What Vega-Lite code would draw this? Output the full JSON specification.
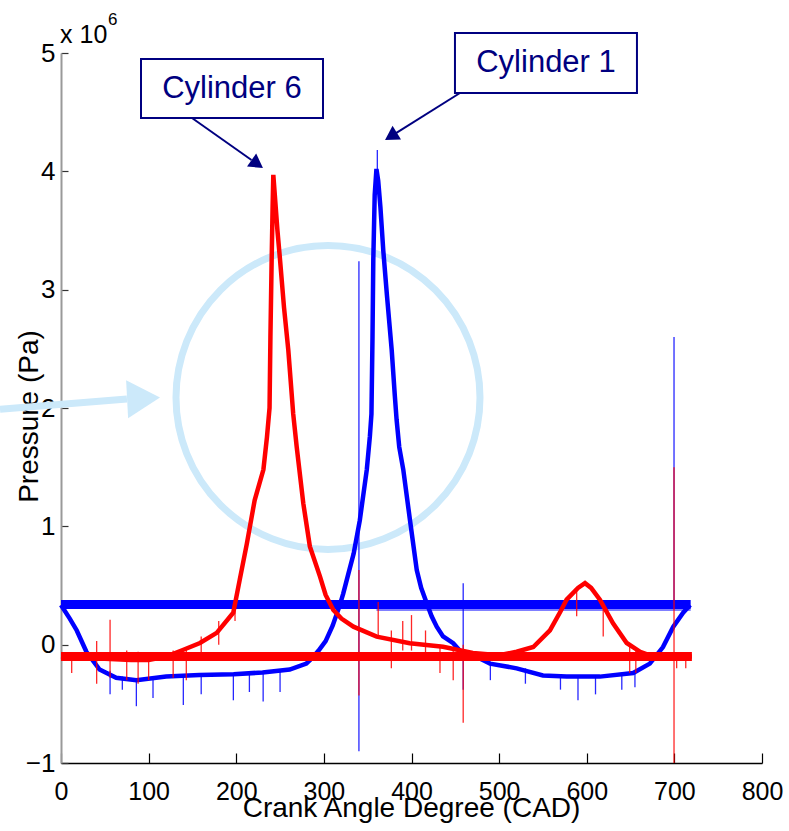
{
  "$schema": "https://vega.github.io/schema/vega-lite/v6.json",
  "width": 701,
  "height": 710,
  "autosize": {"type": "none"},
  "padding": {"left": 61, "top": 53, "right": 27, "bottom": 68},
  "background": "white",
  "config": {
    "view": {"stroke": null},
    "font": "Liberation Sans",
    "axis": {"grid": false, "labelFont": "Liberation Sans", "titleFont": "Liberation Sans", "labelColor": "#000", "titleColor": "#000", "titleFontWeight": "normal"}
  },
  "datasets": {
    "curves": [
      {"cyl": "Cylinder 1", "cad": 0, "p": 0.335}, {"cyl": "Cylinder 1", "cad": 10, "p": 0.22}, {"cyl": "Cylinder 1", "cad": 18, "p": 0.12},
      {"cyl": "Cylinder 1", "cad": 29, "p": -0.06}, {"cyl": "Cylinder 1", "cad": 44, "p": -0.21}, {"cyl": "Cylinder 1", "cad": 63, "p": -0.28},
      {"cyl": "Cylinder 1", "cad": 86, "p": -0.30}, {"cyl": "Cylinder 1", "cad": 120, "p": -0.27}, {"cyl": "Cylinder 1", "cad": 158, "p": -0.256},
      {"cyl": "Cylinder 1", "cad": 197, "p": -0.25}, {"cyl": "Cylinder 1", "cad": 230, "p": -0.235}, {"cyl": "Cylinder 1", "cad": 261, "p": -0.21},
      {"cyl": "Cylinder 1", "cad": 280, "p": -0.16}, {"cyl": "Cylinder 1", "cad": 287, "p": -0.11}, {"cyl": "Cylinder 1", "cad": 294, "p": -0.05},
      {"cyl": "Cylinder 1", "cad": 302, "p": 0.03}, {"cyl": "Cylinder 1", "cad": 310, "p": 0.16}, {"cyl": "Cylinder 1", "cad": 318, "p": 0.33},
      {"cyl": "Cylinder 1", "cad": 322, "p": 0.43}, {"cyl": "Cylinder 1", "cad": 328, "p": 0.6}, {"cyl": "Cylinder 1", "cad": 334, "p": 0.77},
      {"cyl": "Cylinder 1", "cad": 341, "p": 1.05}, {"cyl": "Cylinder 1", "cad": 349, "p": 1.48}, {"cyl": "Cylinder 1", "cad": 352.5, "p": 1.76},
      {"cyl": "Cylinder 1", "cad": 354.3, "p": 1.95}, {"cyl": "Cylinder 1", "cad": 355.5, "p": 2.6}, {"cyl": "Cylinder 1", "cad": 356.4, "p": 3.25},
      {"cyl": "Cylinder 1", "cad": 358, "p": 3.8}, {"cyl": "Cylinder 1", "cad": 360, "p": 4.02}, {"cyl": "Cylinder 1", "cad": 362, "p": 3.92},
      {"cyl": "Cylinder 1", "cad": 364.5, "p": 3.7}, {"cyl": "Cylinder 1", "cad": 367.8, "p": 3.33},
      {"cyl": "Cylinder 1", "cad": 372, "p": 2.95}, {"cyl": "Cylinder 1", "cad": 377.4, "p": 2.49}, {"cyl": "Cylinder 1", "cad": 381, "p": 2.1},
      {"cyl": "Cylinder 1", "cad": 383, "p": 1.9}, {"cyl": "Cylinder 1", "cad": 386, "p": 1.67}, {"cyl": "Cylinder 1", "cad": 390.6, "p": 1.48},
      {"cyl": "Cylinder 1", "cad": 398.3, "p": 1.05}, {"cyl": "Cylinder 1", "cad": 406, "p": 0.63}, {"cyl": "Cylinder 1", "cad": 411, "p": 0.48},
      {"cyl": "Cylinder 1", "cad": 417.4, "p": 0.35}, {"cyl": "Cylinder 1", "cad": 423, "p": 0.24}, {"cyl": "Cylinder 1", "cad": 428.8, "p": 0.152},
      {"cyl": "Cylinder 1", "cad": 436, "p": 0.07}, {"cyl": "Cylinder 1", "cad": 447.6, "p": 0.012}, {"cyl": "Cylinder 1", "cad": 455, "p": -0.05},
      {"cyl": "Cylinder 1", "cad": 470.5, "p": -0.09}, {"cyl": "Cylinder 1", "cad": 489.6, "p": -0.16}, {"cyl": "Cylinder 1", "cad": 520, "p": -0.2},
      {"cyl": "Cylinder 1", "cad": 550, "p": -0.26}, {"cyl": "Cylinder 1", "cad": 577, "p": -0.27}, {"cyl": "Cylinder 1", "cad": 615, "p": -0.27},
      {"cyl": "Cylinder 1", "cad": 653, "p": -0.24}, {"cyl": "Cylinder 1", "cad": 672, "p": -0.16}, {"cyl": "Cylinder 1", "cad": 687, "p": -0.02},
      {"cyl": "Cylinder 1", "cad": 698.6, "p": 0.15}, {"cyl": "Cylinder 1", "cad": 710, "p": 0.27}, {"cyl": "Cylinder 1", "cad": 718, "p": 0.335},
      {"cyl": "Cylinder 6", "cad": 0, "p": -0.10}, {"cyl": "Cylinder 6", "cad": 20, "p": -0.11}, {"cyl": "Cylinder 6", "cad": 50, "p": -0.12},
      {"cyl": "Cylinder 6", "cad": 80, "p": -0.13}, {"cyl": "Cylinder 6", "cad": 100, "p": -0.13}, {"cyl": "Cylinder 6", "cad": 120, "p": -0.10},
      {"cyl": "Cylinder 6", "cad": 139, "p": -0.045}, {"cyl": "Cylinder 6", "cad": 158.6, "p": 0.014}, {"cyl": "Cylinder 6", "cad": 177.7, "p": 0.10},
      {"cyl": "Cylinder 6", "cad": 196.6, "p": 0.27}, {"cyl": "Cylinder 6", "cad": 204, "p": 0.55}, {"cyl": "Cylinder 6", "cad": 212, "p": 0.85},
      {"cyl": "Cylinder 6", "cad": 221, "p": 1.22}, {"cyl": "Cylinder 6", "cad": 231, "p": 1.48}, {"cyl": "Cylinder 6", "cad": 235, "p": 1.75},
      {"cyl": "Cylinder 6", "cad": 238, "p": 2.0}, {"cyl": "Cylinder 6", "cad": 239, "p": 2.6}, {"cyl": "Cylinder 6", "cad": 240.4, "p": 3.25},
      {"cyl": "Cylinder 6", "cad": 241.5, "p": 3.7}, {"cyl": "Cylinder 6", "cad": 242.3, "p": 3.97}, {"cyl": "Cylinder 6", "cad": 244, "p": 3.8},
      {"cyl": "Cylinder 6", "cad": 247, "p": 3.5}, {"cyl": "Cylinder 6", "cad": 250, "p": 3.25}, {"cyl": "Cylinder 6", "cad": 254.5, "p": 2.85},
      {"cyl": "Cylinder 6", "cad": 259.4, "p": 2.49}, {"cyl": "Cylinder 6", "cad": 265, "p": 1.95}, {"cyl": "Cylinder 6", "cad": 269, "p": 1.67},
      {"cyl": "Cylinder 6", "cad": 276.5, "p": 1.195}, {"cyl": "Cylinder 6", "cad": 284, "p": 0.83}, {"cyl": "Cylinder 6", "cad": 295.6, "p": 0.575},
      {"cyl": "Cylinder 6", "cad": 302, "p": 0.42}, {"cyl": "Cylinder 6", "cad": 310.8, "p": 0.293}, {"cyl": "Cylinder 6", "cad": 320, "p": 0.22},
      {"cyl": "Cylinder 6", "cad": 333.7, "p": 0.152}, {"cyl": "Cylinder 6", "cad": 360.3, "p": 0.068}, {"cyl": "Cylinder 6", "cad": 398, "p": 0.012},
      {"cyl": "Cylinder 6", "cad": 436, "p": -0.017}, {"cyl": "Cylinder 6", "cad": 470, "p": -0.07}, {"cyl": "Cylinder 6", "cad": 500, "p": -0.09},
      {"cyl": "Cylinder 6", "cad": 520, "p": -0.06}, {"cyl": "Cylinder 6", "cad": 539, "p": -0.02}, {"cyl": "Cylinder 6", "cad": 558, "p": 0.12},
      {"cyl": "Cylinder 6", "cad": 570, "p": 0.28}, {"cyl": "Cylinder 6", "cad": 577, "p": 0.38}, {"cyl": "Cylinder 6", "cad": 590, "p": 0.48},
      {"cyl": "Cylinder 6", "cad": 598, "p": 0.52}, {"cyl": "Cylinder 6", "cad": 605, "p": 0.48}, {"cyl": "Cylinder 6", "cad": 615, "p": 0.38},
      {"cyl": "Cylinder 6", "cad": 630, "p": 0.18}, {"cyl": "Cylinder 6", "cad": 645.6, "p": 0.014}, {"cyl": "Cylinder 6", "cad": 661, "p": -0.06},
      {"cyl": "Cylinder 6", "cad": 676, "p": -0.1}, {"cyl": "Cylinder 6", "cad": 700, "p": -0.1}, {"cyl": "Cylinder 6", "cad": 720, "p": -0.1}
    ],
    "returns": [
      {"cyl": "Cylinder 1", "seg": "band", "cad": 0, "p": 0.34}, {"cyl": "Cylinder 1", "seg": "band", "cad": 718.6, "p": 0.34},
      {"cyl": "Cylinder 1", "seg": "thin", "cad": 360, "p": 0.293}, {"cyl": "Cylinder 1", "seg": "thin", "cad": 718.6, "p": 0.293},
      {"cyl": "Cylinder 6", "seg": "band", "cad": 0, "p": -0.1}, {"cyl": "Cylinder 6", "seg": "band", "cad": 720, "p": -0.1}
    ],
    "spikes": [
      {"cyl": "Cylinder 1", "cad": 340, "p": -0.9, "p2": 3.24}, {"cyl": "Cylinder 1", "cad": 459, "p": -0.38, "p2": 0.52},
      {"cyl": "Cylinder 1", "cad": 361, "p": 3.9, "p2": 4.18},
      {"cyl": "Cylinder 1", "cad": 699.6, "p": 0.3, "p2": 2.6}, {"cyl": "Cylinder 1", "cad": 56, "p": -0.42, "p2": -0.22},
      {"cyl": "Cylinder 1", "cad": 70, "p": -0.38, "p2": -0.27}, {"cyl": "Cylinder 1", "cad": 86, "p": -0.52, "p2": -0.3},
      {"cyl": "Cylinder 1", "cad": 105, "p": -0.45, "p2": -0.28}, {"cyl": "Cylinder 1", "cad": 139.6, "p": -0.51, "p2": -0.26},
      {"cyl": "Cylinder 1", "cad": 160, "p": -0.42, "p2": -0.25}, {"cyl": "Cylinder 1", "cad": 196.7, "p": -0.47, "p2": -0.25},
      {"cyl": "Cylinder 1", "cad": 215, "p": -0.4, "p2": -0.24}, {"cyl": "Cylinder 1", "cad": 230.7, "p": -0.48, "p2": -0.23},
      {"cyl": "Cylinder 1", "cad": 250, "p": -0.4, "p2": -0.22}, {"cyl": "Cylinder 1", "cad": 490, "p": -0.3, "p2": -0.16},
      {"cyl": "Cylinder 1", "cad": 530, "p": -0.33, "p2": -0.2}, {"cyl": "Cylinder 1", "cad": 570, "p": -0.38, "p2": -0.27},
      {"cyl": "Cylinder 1", "cad": 590, "p": -0.47, "p2": -0.27}, {"cyl": "Cylinder 1", "cad": 610, "p": -0.42, "p2": -0.27},
      {"cyl": "Cylinder 1", "cad": 640, "p": -0.38, "p2": -0.25}, {"cyl": "Cylinder 1", "cad": 655, "p": -0.36, "p2": -0.24},
      {"cyl": "Cylinder 6", "cad": 340, "p": -0.43, "p2": 0.63}, {"cyl": "Cylinder 6", "cad": 459, "p": -0.66, "p2": 0.0},
      {"cyl": "Cylinder 6", "cad": 699.6, "p": -1.0, "p2": 1.5}, {"cyl": "Cylinder 6", "cad": 12.2, "p": -0.24, "p2": -0.1},
      {"cyl": "Cylinder 6", "cad": 40.7, "p": -0.33, "p2": 0.03}, {"cyl": "Cylinder 6", "cad": 56, "p": -0.28, "p2": 0.21},
      {"cyl": "Cylinder 6", "cad": 75, "p": -0.3, "p2": -0.05}, {"cyl": "Cylinder 6", "cad": 88, "p": -0.33, "p2": -0.06},
      {"cyl": "Cylinder 6", "cad": 100, "p": -0.3, "p2": -0.08}, {"cyl": "Cylinder 6", "cad": 128, "p": -0.28, "p2": -0.05},
      {"cyl": "Cylinder 6", "cad": 143, "p": -0.3, "p2": -0.04}, {"cyl": "Cylinder 6", "cad": 160, "p": -0.12, "p2": 0.07},
      {"cyl": "Cylinder 6", "cad": 180, "p": 0.0, "p2": 0.2}, {"cyl": "Cylinder 6", "cad": 198.6, "p": 0.2, "p2": 0.38},
      {"cyl": "Cylinder 6", "cad": 362, "p": 0.07, "p2": 0.36}, {"cyl": "Cylinder 6", "cad": 377, "p": -0.2, "p2": 0.12},
      {"cyl": "Cylinder 6", "cad": 390, "p": -0.05, "p2": 0.2}, {"cyl": "Cylinder 6", "cad": 400, "p": -0.05, "p2": 0.25},
      {"cyl": "Cylinder 6", "cad": 416, "p": -0.08, "p2": 0.12}, {"cyl": "Cylinder 6", "cad": 432.5, "p": -0.24, "p2": 0.0},
      {"cyl": "Cylinder 6", "cad": 447.6, "p": -0.3, "p2": -0.05}, {"cyl": "Cylinder 6", "cad": 588.5, "p": 0.24, "p2": 0.48},
      {"cyl": "Cylinder 6", "cad": 618.8, "p": 0.07, "p2": 0.3}, {"cyl": "Cylinder 6", "cad": 649, "p": -0.24, "p2": 0.0},
      {"cyl": "Cylinder 6", "cad": 656, "p": -0.24, "p2": -0.05}, {"cyl": "Cylinder 6", "cad": 702.6, "p": -0.2, "p2": -0.08},
      {"cyl": "Cylinder 6", "cad": 713, "p": -0.2, "p2": -0.08}
    ],
    "callouts": [
      {"label": "Cylinder 6", "cad": 91.3, "cad2": 299, "p": 4.451, "p2": 4.949, "tx": 195.1, "ty": 4.70, "ax": 149.5, "ay": 4.451, "ax2": 217.4, "ay2": 4.096, "hx": 224, "hy": 4.062},
      {"label": "Cylinder 1", "cad": 449.6, "cad2": 657.3, "p": 4.662, "p2": 5.169, "tx": 553.5, "ty": 4.916, "ax": 455.3, "ay": 4.662, "ax2": 382.3, "ay2": 4.323, "hx": 376.5, "hy": 4.296}
    ],
    "highlight": [
      {"cad": 304.7, "p": 2.089, "cad2": null, "p2": null, "part": "circle"},
      {"cad": -69.6, "p": 1.99, "cad2": 75.3, "p2": 2.076, "part": "arrow"},
      {"cad": 94.2, "p": 2.082, "cad2": null, "p2": null, "part": "head"}
    ],
    "exponent": [
      {"cad": -1.1, "p": 5.085, "txt": "x 10", "part": "base"},
      {"cad": 53.6, "p": 5.237, "txt": "6", "part": "sup"}
    ]
  },
  "layer": [
    {
      "data": {"name": "highlight"},
      "transform": [{"filter": "datum.part === 'circle'"}],
      "mark": {"type": "point", "shape": "circle", "filled": false, "stroke": "#cce9fa", "strokeWidth": 7, "size": 92416, "opacity": 1},
      "encoding": {
        "x": {"field": "cad", "type": "quantitative", "scale": {"domain": [0, 800], "nice": false, "zero": false},
              "axis": {"title": "Crank Angle Degree (CAD)", "values": [0, 100, 200, 300, 400, 500, 600, 700, 800], "format": "d",
                       "tickSize": -10, "tickColor": "#000", "domainColor": "#000", "domainWidth": 1.5, "tickWidth": 1.2,
                       "labelFontSize": 25, "labelPadding": 26, "labelFlush": false, "labelOverlap": false,
                       "titleFontSize": 28, "titleX": 350, "titleY": 53, "titleBaseline": "alphabetic", "titleAlign": "center"}},
        "y": {"field": "p", "type": "quantitative", "scale": {"domain": [-1, 5], "nice": false, "zero": false},
              "axis": {"title": "Pressure (Pa)", "values": [-1, 0, 1, 2, 3, 4, 5], "format": "d",
                       "tickSize": -7, "tickColor": "#333", "domainColor": "#999", "domainWidth": 2, "tickWidth": 1.2,
                       "labelFontSize": 26, "labelPadding": 13, "labelFlush": false, "labelOverlap": false,
                       "titleFontSize": 28, "titleX": -24, "titleY": 363, "titleAngle": -90, "titleBaseline": "alphabetic", "titleAlign": "center"}}
      }
    },
    {
      "data": {"name": "curves"},
      "transform": [{"filter": "datum.cyl === 'Cylinder 1'"}],
      "mark": {"type": "line", "color": "#0000ff", "strokeWidth": 4.5},
      "encoding": {"x": {"field": "cad", "type": "quantitative"}, "y": {"field": "p", "type": "quantitative"}, "order": {"field": "cad"}}
    },
    {
      "data": {"name": "returns"},
      "transform": [{"filter": "datum.cyl === 'Cylinder 1' && datum.seg === 'band'"}],
      "mark": {"type": "line", "color": "#0000ff", "strokeWidth": 9},
      "encoding": {"x": {"field": "cad", "type": "quantitative"}, "y": {"field": "p", "type": "quantitative"}}
    },
    {
      "data": {"name": "returns"},
      "transform": [{"filter": "datum.cyl === 'Cylinder 1' && datum.seg === 'thin'"}],
      "mark": {"type": "line", "color": "#0000ff", "strokeWidth": 1.2},
      "encoding": {"x": {"field": "cad", "type": "quantitative"}, "y": {"field": "p", "type": "quantitative"}}
    },
    {
      "data": {"name": "spikes"},
      "transform": [{"filter": "datum.cyl === 'Cylinder 1'"}],
      "mark": {"type": "rule", "color": "#0000ff", "strokeWidth": 1.3, "opacity": 0.85},
      "encoding": {"x": {"field": "cad", "type": "quantitative"}, "y": {"field": "p", "type": "quantitative"}, "y2": {"field": "p2"}}
    },
    {
      "data": {"name": "curves"},
      "transform": [{"filter": "datum.cyl === 'Cylinder 6'"}],
      "mark": {"type": "line", "color": "#ff0000", "strokeWidth": 4.5},
      "encoding": {"x": {"field": "cad", "type": "quantitative"}, "y": {"field": "p", "type": "quantitative"}, "order": {"field": "cad"}}
    },
    {
      "data": {"name": "returns"},
      "transform": [{"filter": "datum.cyl === 'Cylinder 6'"}],
      "mark": {"type": "line", "color": "#ff0000", "strokeWidth": 9},
      "encoding": {"x": {"field": "cad", "type": "quantitative"}, "y": {"field": "p", "type": "quantitative"}}
    },
    {
      "data": {"name": "spikes"},
      "transform": [{"filter": "datum.cyl === 'Cylinder 6'"}],
      "mark": {"type": "rule", "color": "#ff0000", "strokeWidth": 1.3, "opacity": 0.85},
      "encoding": {"x": {"field": "cad", "type": "quantitative"}, "y": {"field": "p", "type": "quantitative"}, "y2": {"field": "p2"}}
    },
    {
      "data": {"name": "highlight"},
      "transform": [{"filter": "datum.part === 'arrow'"}],
      "mark": {"type": "rule", "color": "#cce9fa", "strokeWidth": 7},
      "encoding": {"x": {"field": "cad", "type": "quantitative"}, "y": {"field": "p", "type": "quantitative"}, "x2": {"field": "cad2"}, "y2": {"field": "p2"}}
    },
    {
      "data": {"name": "highlight"},
      "transform": [{"filter": "datum.part === 'head'"}],
      "mark": {"type": "point", "shape": "triangle-right", "filled": true, "color": "#cce9fa", "size": 1444, "angle": -3, "opacity": 1},
      "encoding": {"x": {"field": "cad", "type": "quantitative"}, "y": {"field": "p", "type": "quantitative"}}
    },
    {
      "data": {"name": "callouts"},
      "mark": {"type": "rect", "fill": "white", "stroke": "#000080", "strokeWidth": 2},
      "encoding": {"x": {"field": "cad", "type": "quantitative"}, "x2": {"field": "cad2"}, "y": {"field": "p", "type": "quantitative"}, "y2": {"field": "p2"}}
    },
    {
      "data": {"name": "callouts"},
      "mark": {"type": "text", "color": "#000080", "fontSize": 31, "font": "Liberation Sans", "align": "center", "baseline": "middle"},
      "encoding": {"x": {"field": "tx", "type": "quantitative"}, "y": {"field": "ty", "type": "quantitative"}, "text": {"field": "label"}}
    },
    {
      "data": {"name": "callouts"},
      "mark": {"type": "rule", "color": "#000080", "strokeWidth": 2},
      "encoding": {"x": {"field": "ax", "type": "quantitative"}, "y": {"field": "ay", "type": "quantitative"}, "x2": {"field": "ax2"}, "y2": {"field": "ay2"}}
    },
    {
      "data": {"name": "callouts"},
      "transform": [{"filter": "datum.label === 'Cylinder 6'"}],
      "mark": {"type": "point", "shape": "triangle-right", "filled": true, "color": "#000080", "size": 256, "angle": 35, "opacity": 1},
      "encoding": {"x": {"field": "hx", "type": "quantitative"}, "y": {"field": "hy", "type": "quantitative"}}
    },
    {
      "data": {"name": "callouts"},
      "transform": [{"filter": "datum.label === 'Cylinder 1'"}],
      "mark": {"type": "point", "shape": "triangle-right", "filled": true, "color": "#000080", "size": 256, "angle": 148, "opacity": 1},
      "encoding": {"x": {"field": "hx", "type": "quantitative"}, "y": {"field": "hy", "type": "quantitative"}}
    },
    {
      "data": {"name": "exponent"},
      "transform": [{"filter": "datum.part === 'base'"}],
      "mark": {"type": "text", "color": "#000", "fontSize": 25, "font": "Liberation Sans", "align": "left", "baseline": "alphabetic"},
      "encoding": {"x": {"field": "cad", "type": "quantitative"}, "y": {"field": "p", "type": "quantitative"}, "text": {"field": "txt"}}
    },
    {
      "data": {"name": "exponent"},
      "transform": [{"filter": "datum.part === 'sup'"}],
      "mark": {"type": "text", "color": "#000", "fontSize": 17, "font": "Liberation Sans", "align": "left", "baseline": "alphabetic"},
      "encoding": {"x": {"field": "cad", "type": "quantitative"}, "y": {"field": "p", "type": "quantitative"}, "text": {"field": "txt"}}
    }
  ]
}
